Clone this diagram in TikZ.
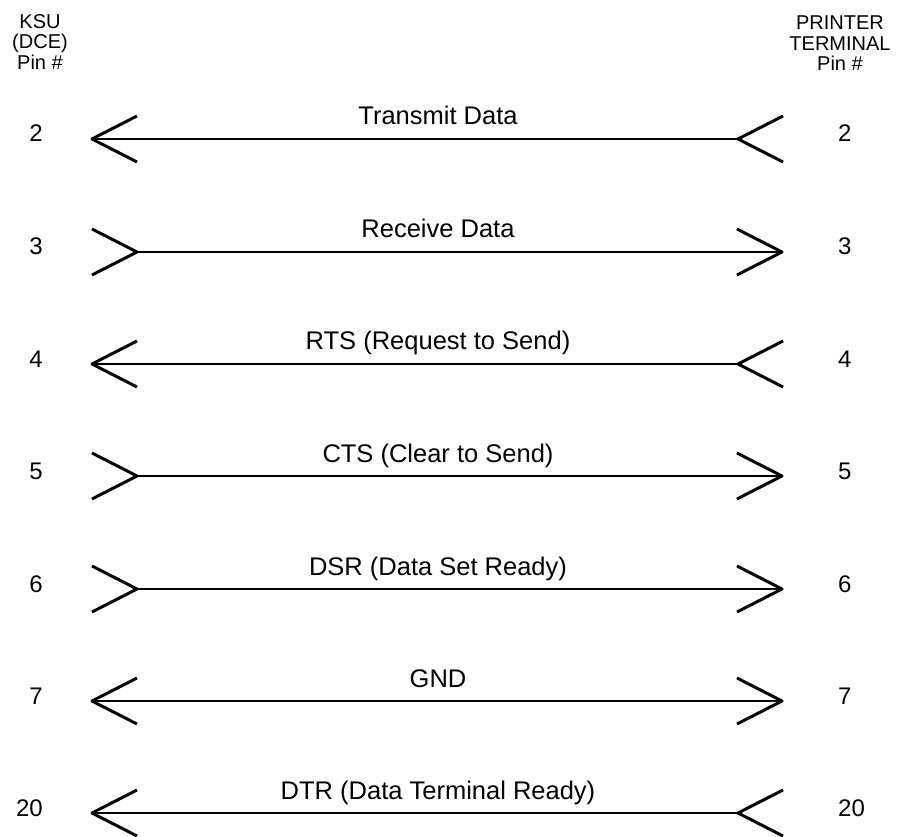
\documentclass[tikz,border=0pt]{standalone}
\usepackage{fontspec}
\setmainfont{Liberation Sans}
\usetikzlibrary{positioning}
\tikzset{
  x=1pt, y=-1pt, % one unit per pixel, y runs downward
  wire/.style={line width=2.2pt}, % the signal line
  barb/.style={line width=3pt, line join=round}, % the open tips
  pin/.style={font=\fontsize{24}{24}\selectfont, inner sep=0pt},
  head/.style={font=\fontsize{20}{20.5}\selectfont, align=center, inner sep=0pt},
  signal/.style={font=\fontsize{25.5}{25.5}\selectfont, inner sep=0pt, anchor=base},
  pics/tipleft/.style={code={\draw[barb] (45,-23) -- (0,0) -- (45,23);}},
  pics/tipright/.style={code={\draw[barb] (-45,-23) -- (0,0) -- (-45,23);}},
}
\begin{document}
\begin{tikzpicture}
    \useasboundingbox (0,0) rectangle (898,837);

    \node[head, anchor=north] (ksu) at (40,14) {KSU\\(DCE)\\Pin \#};
    \node[head, anchor=north] (printer) at (840,16) {PRINTER\\TERMINAL\\Pin \#};

    \foreach \y/\pin/\txt/\lx/\ltip/\rx/\rtip [count=\i] in {
        139/2/{Transmit Data}/92/tipleft/738/tipleft,
        252/3/{Receive Data}/137/tipright/782/tipright,
        364/4/{RTS (Request to Send)}/92/tipleft/738/tipleft,
        476/5/{CTS (Clear to Send)}/137/tipright/782/tipright,
        589/6/{DSR (Data Set Ready)}/137/tipright/782/tipright,
        701/7/{GND}/92/tipleft/782/tipright,
        813/20/{DTR (Data Terminal Ready)}/92/tipleft/738/tipleft}
    {
      \node[pin, anchor=base east] (ksu\i) at (43,\y+3) {\pin};
      \node[pin, anchor=base west] (prt\i) at (838,\y+3) {\pin};
      \node[signal] (sig\i) at (438,\y-14) {\txt};
      \coordinate (a\i) at (\lx,\y);
      \coordinate (b\i) at (\rx,\y);
      \draw[wire] (a\i) -- (b\i);
      \pic at (a\i) {\ltip};
      \pic at (b\i) {\rtip};
    }
\end{tikzpicture}
\end{document}
